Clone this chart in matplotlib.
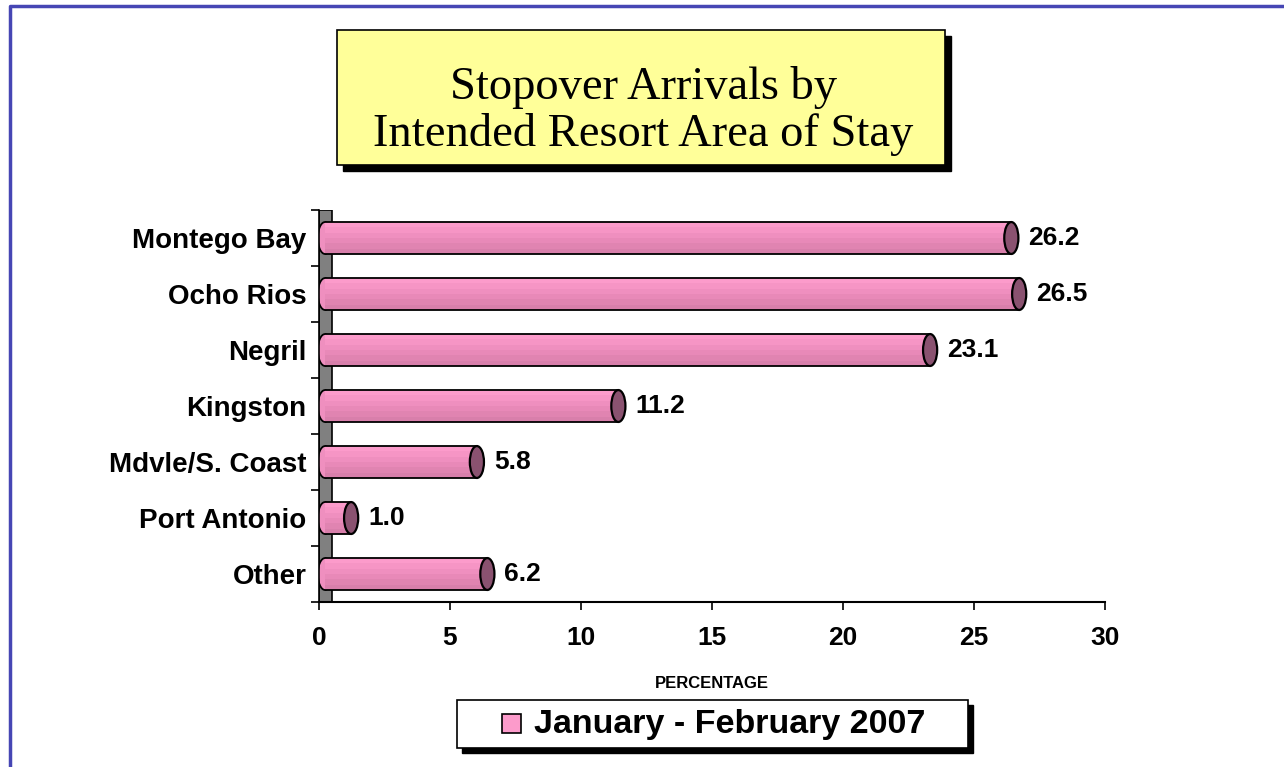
import matplotlib
matplotlib.use("Agg")
import matplotlib.pyplot as plt
import matplotlib.transforms as mtransforms
from matplotlib.patches import Rectangle, Ellipse
from matplotlib.lines import Line2D

# data, top to bottom as in the chart
areas = ["Montego Bay", "Ocho Rios", "Negril", "Kingston",
         "Mdvle/S. Coast", "Port Antonio", "Other"]
share = [26.2, 26.5, 23.1, 11.2, 5.8, 1.0, 6.2]
series_name = "January - February 2007"
title_lines = ["Stopover Arrivals by", "Intended Resort Area of Stay"]
xticks = [0, 5, 10, 15, 20, 25, 30]

plt.rcParams["font.family"] = ["Liberation Sans", "DejaVu Sans"]
plt.rcParams["font.weight"] = "bold"

fig = plt.figure(figsize=(12.84, 7.67), dpi=100)
ax = fig.add_axes([0.2484, 0.2151, 0.6121, 0.5111])

bar_h = 0.57
cap_w = 0.54
bands = ["#FC9BCB", "#F695C5", "#EF8FBF", "#E889B8", "#E084B1", "#D87FAB"]
cap_color = "#8A5270"
# little 3D shift of the bars to the right of the wall
shift = mtransforms.ScaledTranslation(6 / 100, 0, fig.dpi_scale_trans)
trans = ax.transData + shift

ypos = list(range(len(areas)))

# back wall
ax.add_patch(Rectangle((0, -0.5), 0.5, len(areas), facecolor="#808080",
                       edgecolor="black", lw=1.2, zorder=1))

for y, v in zip(ypos, share):
    # rounded left end
    ax.add_patch(Ellipse((0, y), cap_w, bar_h, facecolor=bands[2],
                         edgecolor="black", lw=1.3, transform=trans, zorder=2))
    # body, drawn as horizontal bands for the shading
    bh = bar_h / len(bands)
    for i, c in enumerate(bands):
        yc = y - bar_h / 2 + bh * (i + 0.5)
        ax.barh(yc, v, height=bh, left=0, color=c, lw=0,
                transform=trans, zorder=3)
    ax.hlines([y - bar_h / 2, y + bar_h / 2], 0, v, colors="black",
              lw=1.3, transform=trans, zorder=4)
    # right end cap
    ax.add_patch(Ellipse((v, y), cap_w, bar_h, facecolor=cap_color,
                         edgecolor="black", lw=1.6, transform=trans, zorder=5))
    ax.annotate(f"{v:.1f}", xy=(v, y), xytext=(23, 0),
                textcoords="offset pixels", ha="left", va="center",
                fontsize=19, fontweight="bold")

ax.set_xlim(0, 30)
ax.set_ylim(len(areas) - 0.5, -0.5)
ax.set_xticks(xticks)
ax.set_xticklabels([str(t) for t in xticks], fontsize=19, fontweight="bold")
ax.set_yticks(ypos)
ax.set_yticklabels(areas, fontsize=20, fontweight="bold")
ax.set_yticks([y - 0.5 for y in range(len(areas) + 1)], minor=True)
ax.tick_params(axis="y", which="major", length=0, pad=9)
ax.tick_params(axis="y", which="minor", length=6, width=1.2, direction="out")
ax.tick_params(axis="x", length=6, width=1.2, direction="out", pad=11)
for s in ["top", "right"]:
    ax.spines[s].set_visible(False)
ax.spines["bottom"].set_linewidth(1.5)
ax.spines["left"].set_linewidth(1.2)
ax.set_xlabel("PERCENTAGE", fontsize=12, fontweight="bold", labelpad=19)

W, H = 1284, 767


def fbox(x0, y0, x1, y1, face, shadow):
    # box given in pixel coords (top-left origin) with a black drop shadow
    fig.patches.append(Rectangle(((x0 + shadow) / W, 1 - (y1 + shadow) / H),
                                 (x1 - x0) / W, (y1 - y0) / H,
                                 transform=fig.transFigure, facecolor="black",
                                 edgecolor="black", zorder=1))
    fig.patches.append(Rectangle((x0 / W, 1 - y1 / H), (x1 - x0) / W,
                                 (y1 - y0) / H, transform=fig.transFigure,
                                 facecolor=face, edgecolor="black", lw=1.2,
                                 zorder=2))


# title box
fbox(337, 30, 945, 165, "#FFFF99", 6)
for line, base in zip(title_lines, [99, 146]):
    fig.text(643 / W, 1 - base / H, line, ha="center", va="baseline",
             fontsize=33.5, family="Liberation Serif", fontweight="normal",
             zorder=3)

# legend box
fbox(457, 700, 968, 748, "white", 5)
fig.patches.append(Rectangle((502 / W, 1 - 733 / H), 19 / W, 19 / H,
                             transform=fig.transFigure, facecolor=bands[0],
                             edgecolor="black", lw=1.2, zorder=3))
fig.text(534 / W, 1 - 724 / H, series_name, ha="left", va="center",
         fontsize=24.5, fontweight="bold", zorder=3)

# outer frame (left and top only)
fig.add_artist(Line2D([9.5 / W, 9.5 / W, 1.0], [0.0, 1 - 5.5 / H, 1 - 5.5 / H],
                      transform=fig.transFigure, color="#4646B4", lw=2.5))

fig.savefig("out.png", dpi=100)
